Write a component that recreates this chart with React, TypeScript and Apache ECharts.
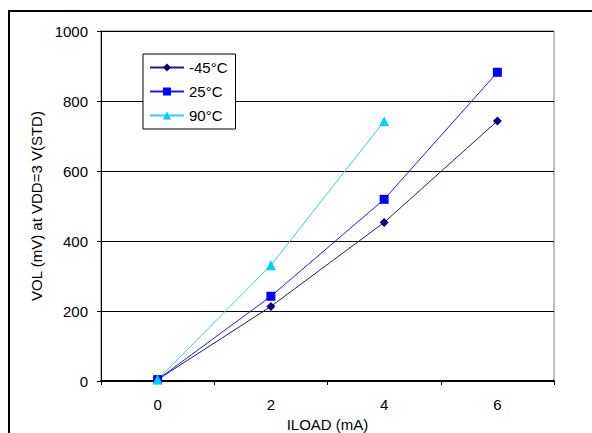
import React, { useEffect, useRef } from "react";
import * as echarts from "echarts";

const categories = ["0", "2", "4", "6"];
const seriesNames = ["-45°C", "25°C", "90°C"];
const vMinus45 = [4, 213, 453, 743];
const v25 = [4, 242, 519, 882];
const v90 = [4, 331, 742];
const yTicks = { min: 0, max: 1000, interval: 200 };

const FONT = "'Liberation Sans', Arial, sans-serif";
const FS = 15;

export default function App() {
  const ref = useRef<HTMLDivElement>(null);
  useEffect(() => {
    const chart = echarts.init(ref.current!, null, { renderer: "svg" });
    chart.setOption({
      animation: false,
      backgroundColor: "#ffffff",
      textStyle: { fontFamily: FONT },
      grid: {
        left: 101,
        top: 31,
        right: 38,
        bottom: 52,
        containLabel: false,
        outerBoundsMode: "none",
        show: true,
        borderColor: "#808080",
        borderWidth: 1,
      },
      graphic: [
        {
          type: "rect",
          shape: { x: 9, y: 11, width: 620, height: 460 },
          style: { fill: "none", stroke: "#000", lineWidth: 2 },
          silent: true,
        },
      ],
      legend: {
        orient: "vertical",
        left: 143,
        top: 54,
        padding: [6, 8, 6, 6],
        itemWidth: 34,
        itemHeight: 10,
        itemGap: 9,
        borderColor: "#000",
        borderWidth: 1,
        backgroundColor: "#fff",
        textStyle: { fontSize: FS, color: "#000", fontFamily: FONT },
        data: seriesNames,
      },
      xAxis: {
        type: "category",
        data: categories,
        boundaryGap: true,
        name: "ILOAD (mA)",
        nameLocation: "middle",
        nameGap: 33,
        nameTextStyle: { fontSize: FS, color: "#000", fontFamily: FONT },
        axisLine: { lineStyle: { color: "#000", width: 2 } },
        axisTick: { show: true, length: 4, lineStyle: { color: "#000" } },
        axisLabel: { fontSize: FS, color: "#000", margin: 16, fontFamily: FONT },
        splitLine: { show: false },
      },
      yAxis: {
        type: "value",
        min: yTicks.min,
        max: yTicks.max,
        interval: yTicks.interval,
        name: "VOL (mV) at VDD=3 V(STD)",
        nameLocation: "middle",
        nameGap: 51,
        nameTextStyle: { fontSize: FS, color: "#000", fontFamily: FONT },
        axisLine: { show: true, lineStyle: { color: "#000", width: 1 } },
        axisTick: { show: true, length: 4, lineStyle: { color: "#000" } },
        axisLabel: {
          fontSize: FS,
          color: "#000",
          margin: 13,
          fontFamily: FONT,
          formatter: (v: number) => String(v),
        },
        splitLine: { show: true, lineStyle: { color: "#000", width: 1 } },
      },
      series: [
        {
          name: seriesNames[0],
          type: "line",
          data: vMinus45,
          symbol: "diamond",
          symbolSize: 9,
          itemStyle: { color: "#000080" },
          lineStyle: { color: "#1a1a80", width: 1 },
        },
        {
          name: seriesNames[1],
          type: "line",
          data: v25,
          symbol: "rect",
          symbolSize: 9,
          itemStyle: { color: "#0000ff" },
          lineStyle: { color: "#1a1aff", width: 1 },
        },
        {
          name: seriesNames[2],
          type: "line",
          data: v90,
          symbol: "triangle",
          symbolSize: 10,
          itemStyle: { color: "#00ccff" },
          lineStyle: { color: "#33ccff", width: 1 },
        },
      ],
    });
    return () => chart.dispose();
  }, []);
  return (
    <div
      ref={ref}
      style={{ position: "fixed", left: 0, top: 0, width: 592, height: 433, overflow: "hidden" }}
    />
  );
}
